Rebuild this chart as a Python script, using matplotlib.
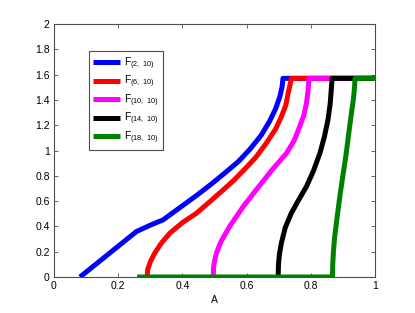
import matplotlib
matplotlib.use('Agg')
import matplotlib.pyplot as plt

plt.rcParams['font.family'] = ['Liberation Sans', 'DejaVu Sans']
plt.rcParams['mathtext.default'] = 'regular'

# curves (x = A, y = F)
blue_x = [0.081, 0.257, 0.300, 0.340, 0.390, 0.444, 0.490, 0.537, 0.575, 0.610,
          0.645, 0.672, 0.690, 0.703, 0.710, 0.713, 1.0]
blue_y = [0.0, 0.36, 0.41, 0.452, 0.545, 0.645, 0.735, 0.833, 0.915, 1.010,
          1.12, 1.235, 1.33, 1.425, 1.50, 1.571, 1.571]

red_x = [0.290, 0.292, 0.300, 0.314, 0.335, 0.361, 0.400, 0.444, 0.485, 0.527,
         0.560, 0.589, 0.628, 0.661, 0.690, 0.708, 0.722, 0.729, 0.735, 0.739, 1.0]
red_y = [0.0, 0.06, 0.12, 0.19, 0.27, 0.347, 0.43, 0.505, 0.595, 0.689,
         0.765, 0.840, 0.945, 1.058, 1.17, 1.268, 1.36, 1.452, 1.52, 1.571, 1.571]

magenta_x = [0.496, 0.497, 0.501, 0.506, 0.520, 0.547, 0.590, 0.638, 0.680, 0.724,
             0.748, 0.765, 0.778, 0.786, 0.791, 0.794, 1.0]
magenta_y = [0.0, 0.08, 0.14, 0.19, 0.28, 0.40, 0.56, 0.716, 0.85, 0.979,
             1.08, 1.189, 1.28, 1.373, 1.47, 1.571, 1.571]

black_x = [0.698, 0.699, 0.702, 0.708, 0.720, 0.739, 0.762, 0.786, 0.808, 0.828,
           0.842, 0.853, 0.860, 0.864, 0.866, 1.0]
black_y = [0.0, 0.10, 0.18, 0.268, 0.39, 0.505, 0.61, 0.715, 0.84, 0.979,
           1.11, 1.242, 1.37, 1.505, 1.571, 1.571]

green_x = [0.259, 0.867, 0.868, 0.870, 0.874, 0.882, 0.890, 0.900, 0.910, 0.918,
           0.926, 0.932, 0.936, 0.937, 1.0]
green_y = [0.0, 0.0, 0.10, 0.20, 0.32, 0.48, 0.636, 0.81, 0.979, 1.14,
           1.294, 1.40, 1.505, 1.571, 1.571]

labels = ['F$_{(2,\\ 10)}$', 'F$_{(6,\\ 10)}$', 'F$_{(10,\\ 10)}$',
          'F$_{(14,\\ 10)}$', 'F$_{(18,\\ 10)}$']
colors = ['#0000ff', '#ff0000', '#ff00ff', '#000000', '#008000']

xticks = [0, 0.2, 0.4, 0.6, 0.8, 1]
xticklabels = ['0', '0.2', '0.4', '0.6', '0.8', '1']
yticks = [0, 0.2, 0.4, 0.6, 0.8, 1, 1.2, 1.4, 1.6, 1.8, 2]
yticklabels = ['0', '0.2', '0.4', '0.6', '0.8', '1', '1.2', '1.4', '1.6', '1.8', '2']

fig = plt.figure(figsize=(4.15, 3.13), dpi=100)
ax = fig.add_axes([0.130, 0.115, 0.774, 0.808])

series = [(blue_x, blue_y), (red_x, red_y), (magenta_x, magenta_y),
          (black_x, black_y), (green_x, green_y)]
for (x, y), c, lab in zip(series, colors, labels):
    ax.plot(x, y, color=c, lw=3.6, label=lab, solid_capstyle='butt',
            solid_joinstyle='round')

ax.set_xlim(0, 1)
ax.set_ylim(0, 2)
ax.set_xticks(xticks)
ax.set_xticklabels(xticklabels)
ax.set_yticks(yticks)
ax.set_yticklabels(yticklabels)
ax.tick_params(direction='in', top=True, right=True, labelsize=7.5,
               length=3, width=0.6, color='0.3', pad=3)
for s in ax.spines.values():
    s.set_color('0.3')
    s.set_linewidth(0.8)
ax.set_xlabel('A', fontsize=7.5, labelpad=3)

leg = ax.legend(loc='upper left', bbox_to_anchor=(0.109, 0.893),
                borderaxespad=0, fancybox=False, framealpha=1,
                edgecolor='0.3', fontsize=7.5, handlelength=2.6,
                labelspacing=0.2, borderpad=0.4, handletextpad=0.4)
leg.get_frame().set_linewidth(0.8)

fig.savefig('out.png', dpi=100)
